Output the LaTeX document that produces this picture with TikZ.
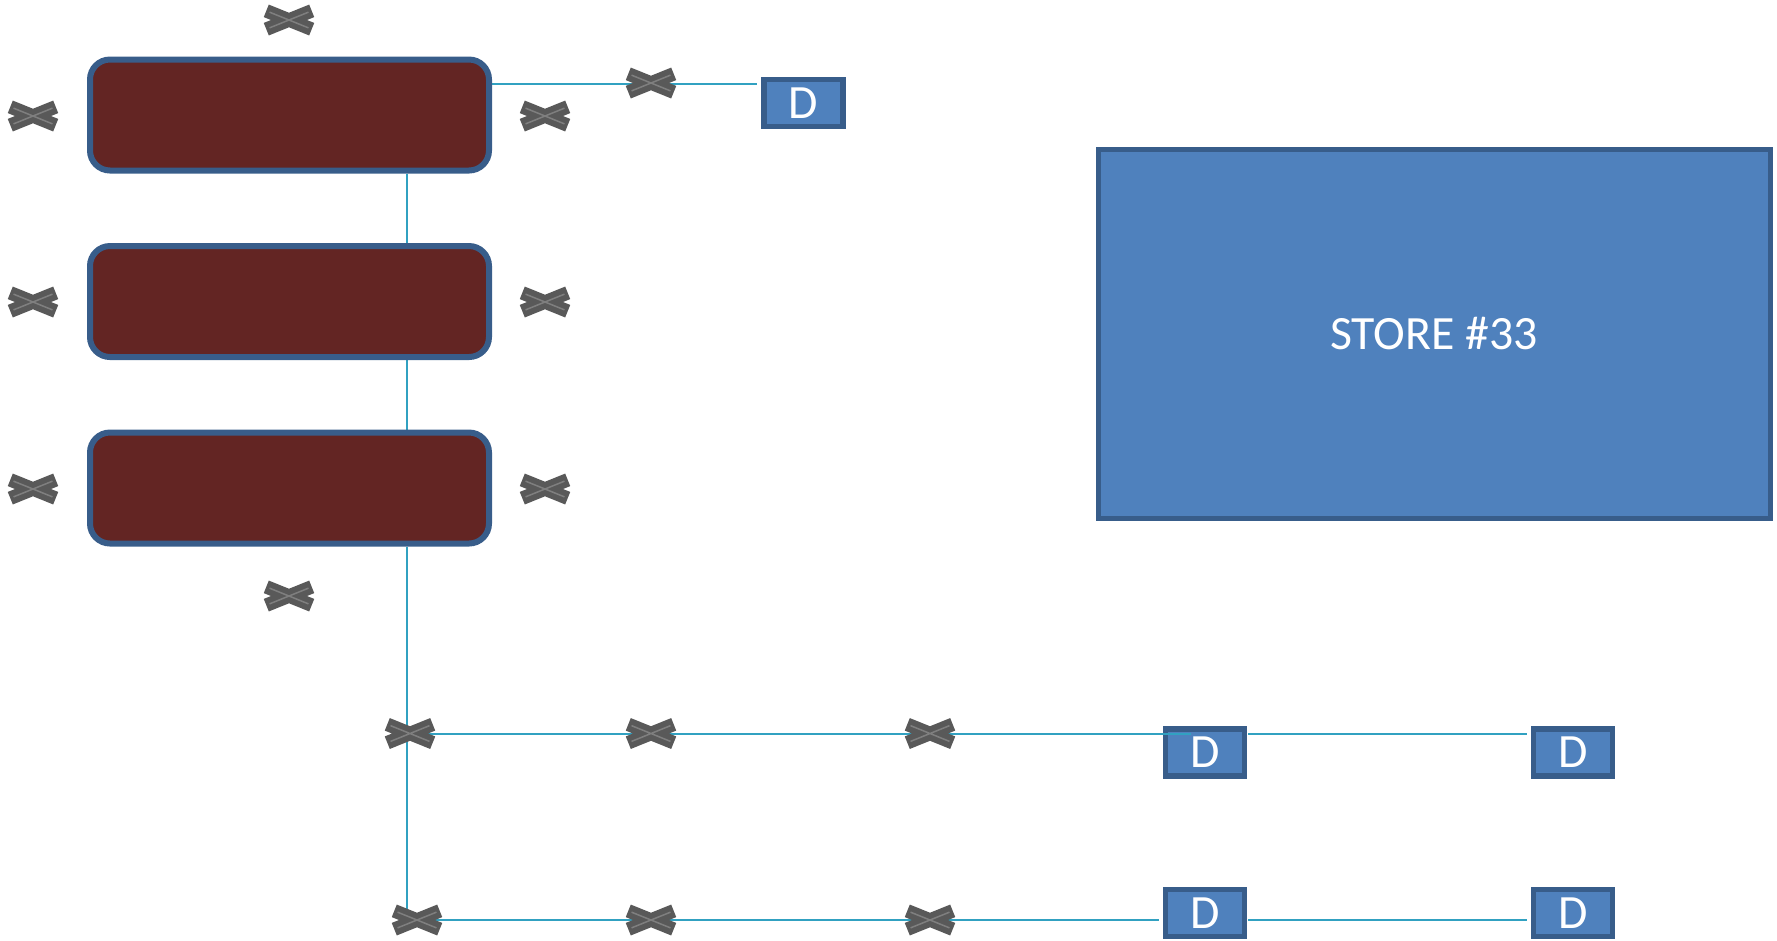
\documentclass[tikz,border=0pt]{standalone}
\usepackage{fontspec}
\setmainfont{Carlito}
\usetikzlibrary{backgrounds}
\definecolor{edgeblue}{HTML}{385D8A}
\definecolor{fillblue}{HTML}{4F81BD}
\definecolor{barred}{HTML}{632523}
\definecolor{wirecyan}{HTML}{31A1C1}
\definecolor{crossdark}{HTML}{595959}
\definecolor{crosslight}{HTML}{7F7F7F}
\tikzset{
  barbox/.style={draw=edgeblue,fill=barred,line width=.06cm,rounded corners=.2cm,minimum width=3.99cm,minimum height=1.11cm},
  dbox/.style={draw=edgeblue,fill=fillblue,line width=.055cm,minimum width=.79cm,minimum height=.47cm,inner sep=0pt,text=white,text depth=-.025cm,font=\fontsize{13.6}{16}\selectfont},
  storebox/.style={draw=edgeblue,fill=fillblue,line width=.05cm,minimum width=6.72cm,minimum height=3.69cm,text=white,text depth=-.025cm,font=\fontsize{13.6}{16}\selectfont},
  wire/.style={wirecyan,line width=.02cm},
  crossmark/.style={minimum width=.6cm,minimum height=.4cm,inner sep=0pt,path picture={
    \draw[crossdark,line width=.135cm] (202:.245) -- (22:.245) (158:.245) -- (-22:.245);
    \draw[crosslight,line width=.015cm] (202:.21) -- (22:.21) (158:.21) -- (-22:.21);
  }}
}
\begin{document}
\begin{tikzpicture}[y=-1cm]
\useasboundingbox (0,0) rectangle (17.77,9.40);

\node[barbox] (barA) at (2.895,1.15){};
\node[barbox] (barB) at (2.895,3.015){};
\node[barbox] (barC) at (2.895,4.88){};

\node[storebox] (store) at (14.34,3.335){STORE \#33};

\node[dbox] (dTop) at (8.035,1.03){D};
\node[dbox] (dA) at (12.05,7.525){D};
\node[dbox] (dB) at (15.73,7.525){D};
\node[dbox] (dC) at (12.05,9.13){D};
\node[dbox] (dD) at (15.73,9.13){D};

\node[crossmark] (xTop) at (2.89,0.20){};
\node[crossmark] (xBot) at (2.89,5.96){};
\node[crossmark] (xAl) at (0.33,1.16){};
\node[crossmark] (xAr) at (5.45,1.16){};
\node[crossmark] (xBl) at (0.33,3.02){};
\node[crossmark] (xBr) at (5.45,3.02){};
\node[crossmark] (xCl) at (0.33,4.89){};
\node[crossmark] (xCr) at (5.45,4.89){};
\node[crossmark] (xFeed) at (6.51,0.83){};
\node[crossmark] (xA) at (4.10,7.335){};
\node[crossmark] (xB) at (6.51,7.335){};
\node[crossmark] (xC) at (9.30,7.335){};
\node[crossmark] (xD) at (4.17,9.20){};
\node[crossmark] (xE) at (6.51,9.20){};
\node[crossmark] (xF) at (9.30,9.20){};

\coordinate (tap) at (4.07,0);
\coordinate (busEnd) at (4.07,9.12);
\coordinate (feedEnd) at (7.57,0.84);
\coordinate (rowA) at (11.91,7.335);
\coordinate (rowC) at (11.59,9.20);

\begin{scope}[on background layer]
\draw[wire] (barA.south -| tap) -- (barB.north -| tap);
\draw[wire] (barB.south -| tap) -- (barC.north -| tap);
\draw[wire] (barC.south -| tap) -- (busEnd);
\draw[wire] (barA.east |- feedEnd) -- (feedEnd);
\draw[wire] (xA.center) -- (xB.center) -- (xC.center) -- (dA.west |- rowA);
\draw[wire] (xD.center) -- (xE.center) -- (xF.center) -- (rowC);
\end{scope}

\draw[wire] (dA.west |- rowA) -- (rowA);
\draw[wire,shorten <=.01cm,shorten >=.04cm] (dA.east |- rowA) -- (dB.west |- rowA);
\draw[wire,shorten <=.01cm,shorten >=.04cm] (dC.east |- rowC) -- (dD.west |- rowC);
\end{tikzpicture}
\end{document}
